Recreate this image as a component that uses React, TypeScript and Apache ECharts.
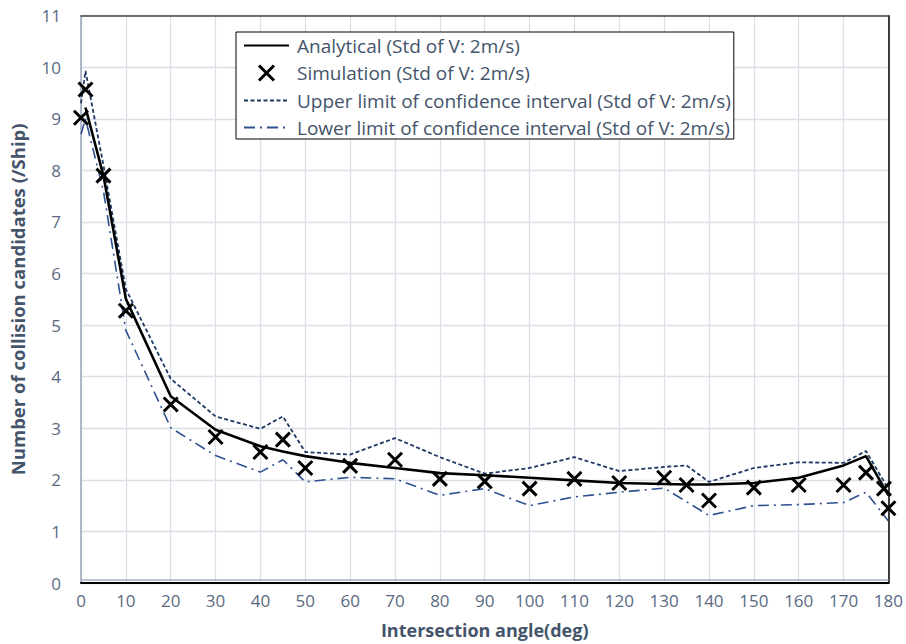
import React, { useEffect, useRef } from "react";
import * as echarts from "echarts";

// ---- Data ----
const analyticalAngles = [1, 5, 10, 20, 30, 40, 45, 50, 60, 70, 80, 90, 100, 110, 120, 130, 135, 140, 150, 160, 170, 175, 180];
const analyticalValues = [9.22, 7.9, 5.51, 3.62, 2.97, 2.65, 2.55, 2.46, 2.33, 2.23, 2.13, 2.09, 2.04, 1.99, 1.94, 1.92, 1.91, 1.91, 1.94, 2.04, 2.28, 2.46, 1.7];

const simulationAngles = [0, 1, 5, 10, 20, 30, 40, 45, 50, 60, 70, 80, 90, 100, 110, 120, 130, 135, 140, 150, 160, 170, 175, 179, 180];
const simulationValues = [9.02, 9.57, 7.9, 5.28, 3.46, 2.83, 2.54, 2.78, 2.23, 2.27, 2.39, 2.02, 1.97, 1.83, 2.02, 1.94, 2.04, 1.9, 1.6, 1.85, 1.9, 1.9, 2.14, 1.83, 1.45];

const upperAngles = [0, 1, 5, 10, 20, 30, 40, 45, 50, 60, 70, 80, 90, 100, 110, 120, 130, 135, 140, 150, 160, 170, 175, 180];
const upperValues = [9.3, 9.93, 8.1, 5.7, 3.96, 3.23, 2.99, 3.23, 2.54, 2.49, 2.81, 2.44, 2.12, 2.23, 2.44, 2.17, 2.25, 2.28, 1.96, 2.23, 2.34, 2.33, 2.56, 1.82];

const lowerAngles = [0, 1, 5, 10, 20, 30, 40, 45, 50, 60, 70, 80, 90, 100, 110, 120, 130, 140, 150, 160, 170, 175, 180];
const lowerValues = [8.7, 9.0, 7.6, 4.9, 3.01, 2.47, 2.15, 2.39, 1.96, 2.05, 2.02, 1.7, 1.83, 1.5, 1.67, 1.76, 1.84, 1.31, 1.5, 1.52, 1.56, 1.76, 1.2];

const seriesNames = [
  "Analytical (Std of V: 2m/s)",
  "Simulation (Std of V: 2m/s)",
  "Upper limit of confidence interval (Std of V: 2m/s)",
  "Lower limit of confidence interval (Std of V: 2m/s)",
];

const xAxisTitle = "Intersection angle(deg)";
const yAxisTitle = "Number of collision candidates (/Ship)";

const pair = (xs: number[], ys: number[]) => xs.map((x, i) => [x, ys[i]]);

const FONT = "'Open Sans', 'Noto Sans', sans-serif";
const TICK_COLOR = "#5a6a82";
const TITLE_COLOR = "#44546a";
const GRID_COLOR = "#dbe0e8";
const X_PATH = "path://M0,0L10,10M10,0L0,10";

export default function App() {
  const ref = useRef<HTMLDivElement>(null);

  useEffect(() => {
    if (!ref.current) return;
    const chart = echarts.init(ref.current, undefined, { renderer: "svg" });
    const hiddenSymbol = { opacity: 0 };
    const option: any = {
      animation: false,
      backgroundColor: "#ffffff",
      textStyle: { fontFamily: FONT },
      grid: { left: 79.5, right: 15.7, top: 15.7, bottom: 59.7, containLabel: false },
      legend: {
        orient: "vertical",
        left: 236,
        top: 32,
        padding: [4, 3, 2, 7],
        itemGap: 8,
        itemWidth: 45,
        itemHeight: 15,
        borderColor: "#000000",
        borderWidth: 1,
        backgroundColor: "#ffffff",
        textStyle: { fontFamily: FONT, fontSize: 19, color: TITLE_COLOR, padding: [0, 0, 0, 3] },
        data: [
          { name: seriesNames[0], itemStyle: hiddenSymbol },
          { name: seriesNames[1], itemStyle: { color: "none", borderColor: "#000000", borderWidth: 3, opacity: 1 } },
          { name: seriesNames[2], itemStyle: hiddenSymbol },
          { name: seriesNames[3], itemStyle: hiddenSymbol },
        ],
        z: 10,
      },
      xAxis: [
        {
          type: "value",
          min: 0,
          max: 180,
          interval: 10,
          name: xAxisTitle,
          nameLocation: "middle",
          nameGap: 38,
          nameTextStyle: { fontFamily: FONT, fontSize: 18, fontWeight: "bold", color: TITLE_COLOR },
          axisLine: { show: true, onZero: false, lineStyle: { color: "#000000", width: 2 } },
          axisTick: { show: false },
          axisLabel: { fontFamily: FONT, fontSize: 17, color: TICK_COLOR, margin: 9 },
          splitLine: { show: true, lineStyle: { color: GRID_COLOR, width: 1.3 } },
        },
        {
          type: "value",
          position: "top",
          min: 0,
          max: 180,
          interval: 10,
          axisLine: { show: true, onZero: false, lineStyle: { color: "#444444", width: 1.5 } },
          axisTick: { show: false },
          axisLabel: { show: false },
          splitLine: { show: false },
        },
      ],
      yAxis: [
        {
          type: "value",
          min: 0,
          max: 11,
          interval: 1,
          name: yAxisTitle,
          nameLocation: "middle",
          nameGap: 54,
          nameRotate: 90,
          nameTextStyle: { fontFamily: FONT, fontSize: 18.5, fontWeight: "bold", color: TITLE_COLOR },
          axisLine: { show: true, onZero: false, lineStyle: { color: "#9aa6b8", width: 1.5 } },
          axisTick: { show: false },
          axisLabel: { fontFamily: FONT, fontSize: 17, color: TICK_COLOR, margin: 20 },
          splitLine: { show: true, lineStyle: { color: GRID_COLOR, width: 1.3 } },
        },
        {
          type: "value",
          position: "right",
          min: 0,
          max: 11,
          interval: 1,
          axisLine: { show: true, onZero: false, lineStyle: { color: "#000000", width: 1.5 } },
          axisTick: { show: false },
          axisLabel: { show: false },
          splitLine: { show: false },
        },
      ],
      series: [
        {
          name: seriesNames[0],
          type: "line",
          data: pair(analyticalAngles, analyticalValues),
          symbol: "none",
          lineStyle: { color: "#000000", width: 2.6 },
          itemStyle: { color: "#000000" },
          z: 4,
        },
        {
          name: seriesNames[1],
          type: "scatter",
          data: pair(simulationAngles, simulationValues),
          symbol: X_PATH,
          symbolSize: 14,
          itemStyle: { color: "none", borderColor: "#000000", borderWidth: 3, opacity: 1 },
          z: 5,
        },
        {
          name: seriesNames[2],
          type: "line",
          data: pair(upperAngles, upperValues),
          symbol: "none",
          lineStyle: { color: "#1f3864", width: 1.8, type: [4, 2.5] },
          itemStyle: { color: "#1f3864" },
          z: 3,
        },
        {
          name: seriesNames[3],
          type: "line",
          data: pair(lowerAngles, lowerValues),
          symbol: "none",
          lineStyle: { color: "#2f5190", width: 1.6, type: [11, 5, 2, 5] },
          itemStyle: { color: "#2f5190" },
          z: 3,
          markLine: {
            silent: true,
            symbol: "none",
            label: { show: false },
            lineStyle: { color: "#a7b1c2", width: 1.5, type: "solid" },
            data: [{ yAxis: 0.07 }],
          },
        },
      ],
    };
    chart.setOption(option);
    return () => chart.dispose();
  }, []);

  return <div ref={ref} style={{ width: 906, height: 644, position: "fixed", left: 0, top: 0 }} />;
}
